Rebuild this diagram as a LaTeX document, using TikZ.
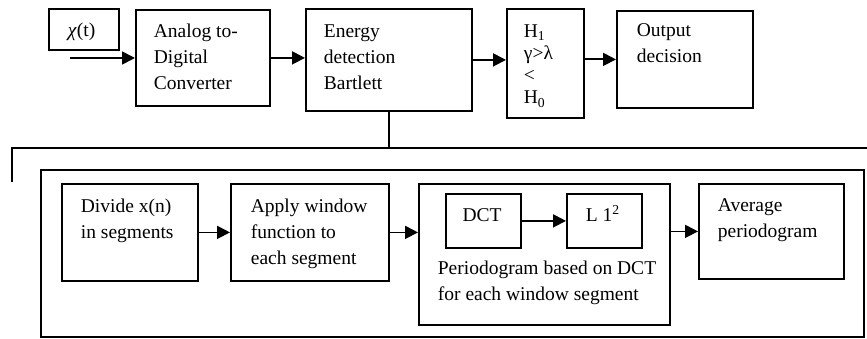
\documentclass[tikz,border=0pt]{standalone}
\usepackage{fontspec}
\setmainfont{Liberation Serif}
\usetikzlibrary{positioning, arrows.meta, calc}

\begin{document}
\begin{tikzpicture}[x=1pt,y=-1pt,line width=1.8pt,
        blk/.style={draw, inner sep=0pt, anchor=north west},
        txt/.style={align=left, inner sep=0pt, anchor=base west, font=\fontsize{19.5}{26}\selectfont},
        arr/.style={-{Triangle[length=13pt,width=13pt]}}]
    \useasboundingbox (0,0) rectangle (867,339);

    % top chain (texts sit on the baseline of their last line)
    \node[blk, minimum width=70, minimum height=41] (X) at (48,8) {};
    \node[txt] (Xt) at (67,37) {\textit{χ}(t)};
    \node[blk, minimum width=134, minimum height=96] (ADC) at (135,9) {};
    \node[txt] (ADCt) at (153,90) {Analog to-\\Digital\\Converter};
    \node[blk, minimum width=166, minimum height=102] (E) at (305,8) {};
    \node[txt] (Et) at (323,90) {Energy\\detection\\Bartlett};
    \node[blk, minimum width=77, minimum height=109] (H) at (506,8) {};
    \node[txt, font=\fontsize{19.5}{22.3}\selectfont] (Ht) at (523,104)
        {H\textsubscript{1}\\γ>λ\\<\\H\textsubscript{0}};
    \node[blk, minimum width=136, minimum height=97] (O) at (616,10) {};
    \node[txt] (Ot) at (636,63) {Output\\decision};

    \coordinate (In) at (70,58);
    \draw[arr] (In) -- (In -| ADC.west);
    \draw[arr] (ADC.east) -- (ADC.east -| E.west);
    \draw[arr] (E.east) -- (E.east -| H.west);
    \draw[arr] (O.west -| H.east) -- (O.west);

    % bus down to the Bartlett detail
    \coordinate (BusL) at (12,148);
    \coordinate (BusR) at (867,148);
    \coordinate (BusE) at (12,182);
    \draw (BusE) -- (BusL) -- (BusR);
    \draw (E.south) -- (E.south |- BusL);

    % Bartlett detail
    \node[blk, minimum width=823, minimum height=167] (F) at (40,169) {};
    \node[blk, minimum width=136, minimum height=97] (D) at (61,183) {};
    \node[txt] (Dt) at (80,238) {Divide x(n)\\in segments};
    \node[blk, minimum width=158, minimum height=97] (A) at (230,183) {};
    \node[txt] (At) at (250,264) {Apply window\\function to\\each segment};
    \node[blk, minimum width=251, minimum height=141] (P) at (418,183) {};
    \node[blk, minimum width=75, minimum height=54] (DCT) at (445,193) {};
    \node[txt, anchor=base] (DCTt) at (482,222) {DCT};
    \node[blk, minimum width=75, minimum height=54] (L) at (566,193) {};
    \node[txt] (Lt) at (585,222) {L 1\textsuperscript{2}};
    \node[txt] (Pt) at (437,300) {Periodogram based on DCT\\for each window segment};
    \node[blk, minimum width=145, minimum height=95] (Avg) at (698,183) {};
    \node[txt] (Avgt) at (717,237) {Average\\periodogram};

    \draw[arr] (D.east) -- (D.east -| A.west);
    \draw[arr] (A.east) -- (A.east -| P.west);
    \draw[arr] (DCT.east) -- (DCT.east -| L.west);
    \draw[arr] (Avg.west -| P.east) -- (Avg.west);

\end{tikzpicture}
\end{document}
